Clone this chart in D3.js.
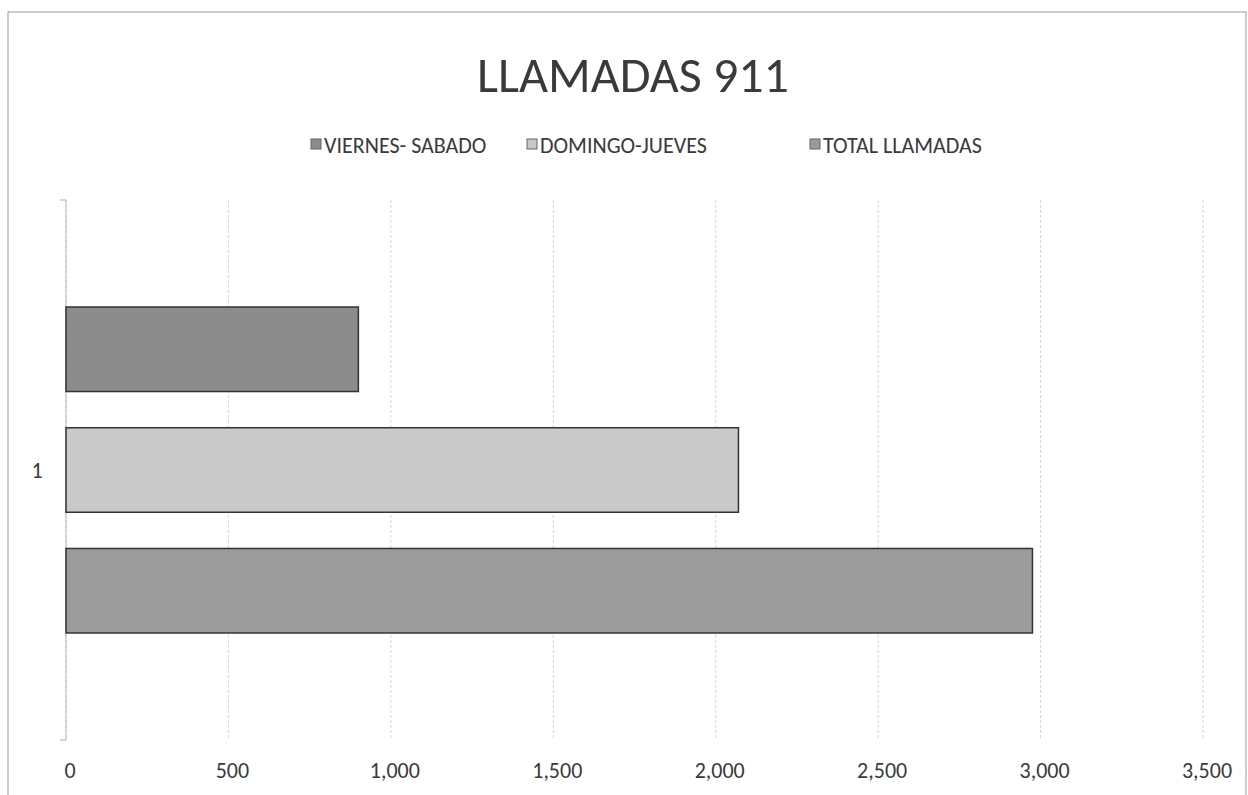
<!DOCTYPE html>
<html lang="es">
<head>
<meta charset="utf-8">
<title>LLAMADAS 911</title>
<style>
  body { margin: 0; background: #fff; }
  text { font-family: Carlito, Lato, "Open Sans", sans-serif; }
</style>
</head>
<body>
<svg width="1248" height="795"></svg>
<script src="https://cdn.jsdelivr.net/npm/d3@7"></script>
<script>
// data
const categories = ["1"];
const seriesNames = ["VIERNES- SABADO", "DOMINGO-JUEVES", "TOTAL LLAMADAS"];
const seriesValues = [900, 2070, 2975];
const seriesColors = ["#8c8c8c", "#c9c9c9", "#9c9c9c"];
const xTicks = [0, 500, 1000, 1500, 2000, 2500, 3000, 3500];

const svg = d3.select("svg");
const width = +svg.attr("width");

// chart frame
svg.append("rect")
    .attr("x", 8).attr("y", 12)
    .attr("width", width - 10).attr("height", 790)
    .attr("fill", "none")
    .attr("stroke", "#999")
    .attr("stroke-width", 1);

const margin = {left: 66, right: 45, top: 200, bottom: 55};
const plotH = 795 - margin.top - margin.bottom;

const x = d3.scaleLinear()
    .domain([0, 3500])
    .range([margin.left, width - margin.right]);

const y0 = d3.scaleBand()
    .domain(categories)
    .range([margin.top, margin.top + plotH]);

const y1 = d3.scaleBand()
    .domain(seriesNames)
    .range([y0("1") + 107, y0("1") + 433])
    .paddingInner(0.3);

// gridlines
svg.append("g")
    .selectAll("line")
    .data(xTicks)
    .join("line")
    .attr("x1", d => x(d)).attr("x2", d => x(d))
    .attr("y1", margin.top).attr("y2", margin.top + plotH)
    .attr("stroke", "#d4d4d4")
    .attr("stroke-dasharray", "3,2");

// left axis line and end ticks
svg.append("line")
    .attr("x1", x(0)).attr("x2", x(0))
    .attr("y1", margin.top).attr("y2", margin.top + plotH)
    .attr("stroke", "#bbb");
svg.append("g")
    .selectAll("line")
    .data([margin.top, margin.top + plotH])
    .join("line")
    .attr("x1", x(0) - 6).attr("x2", x(0))
    .attr("y1", d => d).attr("y2", d => d)
    .attr("stroke", "#aaa");

// x tick labels
svg.append("g")
    .selectAll("text")
    .data(xTicks)
    .join("text")
    .attr("x", d => x(d) + 4)
    .attr("y", 778)
    .attr("text-anchor", "middle")
    .attr("font-size", 22)
    .attr("fill", "#3a3a3a")
    .text(d => d3.format(",")(d));

// category label
svg.append("text")
    .attr("x", 37)
    .attr("y", y0("1") + y0.bandwidth() / 2 + 8)
    .attr("text-anchor", "middle")
    .attr("font-size", 22)
    .attr("fill", "#3a3a3a")
    .text(categories[0]);

// bars
svg.append("g")
    .selectAll("rect")
    .data(seriesNames.map((s, i) => ({s, v: seriesValues[i], c: seriesColors[i]})))
    .join("rect")
    .attr("x", x(0))
    .attr("y", d => y1(d.s))
    .attr("width", d => x(d.v) - x(0))
    .attr("height", y1.bandwidth())
    .attr("fill", d => d.c)
    .attr("stroke", "#333")
    .attr("stroke-width", 1.5);

// title
svg.append("text")
    .attr("x", 633)
    .attr("y", 92)
    .attr("text-anchor", "middle")
    .attr("font-size", 50)
    .attr("font-weight", 300)
    .attr("fill", "#3a3a3a")
    .text("LLAMADAS 911");

// legend
const legendX = [311, 527, 810];
const legend = svg.append("g")
    .selectAll("g")
    .data(seriesNames)
    .join("g")
    .attr("transform", (d, i) => `translate(${legendX[i]},153)`);
legend.append("rect")
    .attr("x", 0).attr("y", -14)
    .attr("width", 10).attr("height", 10)
    .attr("fill", (d, i) => seriesColors[i])
    .attr("stroke", "#666");
legend.append("text")
    .attr("x", 13).attr("y", 0)
    .attr("font-size", 22)
    .attr("fill", "#3a3a3a")
    .text(d => d);
</script>
</body>
</html>
